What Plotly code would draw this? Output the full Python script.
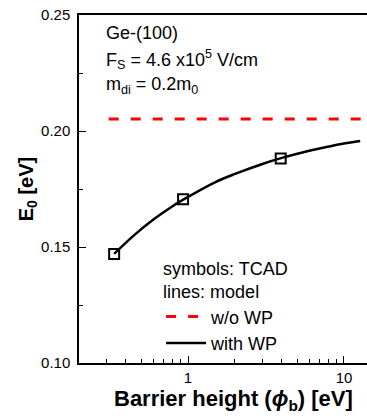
import plotly.graph_objects as go
import math

# TCAD symbols
tcad_phi = [0.336, 0.93, 3.93]
tcad_e0 = [0.147, 0.1706, 0.1882]

# model with WP
model_phi = [0.336, 0.45, 0.6, 0.8, 1.0, 1.5, 2.0, 3.0, 4.0, 6.0, 8.0, 10.0, 12.7]
model_e0 = [0.147, 0.155, 0.1618, 0.1677, 0.1716, 0.178, 0.1815, 0.1858, 0.1884, 0.1915, 0.1933, 0.1946, 0.1957]

# model without WP
nowp_phi = [0.31, 14.5]
nowp_e0 = [0.2052, 0.2052]

FONT = "Arial, Liberation Sans, sans-serif"
TXT = 18

fig = go.Figure()
fig.add_trace(go.Scatter(x=nowp_phi, y=nowp_e0, mode="lines", name="w/o WP",
                         line=dict(color="#ff0000", width=3, dash="10px,12px")))
fig.add_trace(go.Scatter(x=model_phi, y=model_e0, mode="lines", name="with WP",
                         line=dict(color="black", width=2.5, shape="spline")))
fig.add_trace(go.Scatter(x=tcad_phi, y=tcad_e0, mode="markers", showlegend=False,
                         marker=dict(symbol="square-open", size=10, color="black",
                                     line=dict(width=2, color="black"))))

fig.update_layout(
    width=367, height=419,
    margin=dict(l=79, r=0, t=15, b=56),
    paper_bgcolor="white", plot_bgcolor="white",
    font=dict(family=FONT, size=15, color="black"),
    showlegend=True,
    legend=dict(
        x=0.285, y=0.004, xanchor="left", yanchor="bottom",
        bgcolor="rgba(0,0,0,0)",
        title=dict(text="symbols: TCAD<br>lines: model", font=dict(size=TXT)),
        font=dict(size=TXT),
        itemwidth=40,
        tracegroupgap=0,
    ),
    xaxis=dict(
        type="log", range=[math.log10(0.2), math.log10(14.05)],
        showline=True, linecolor="black", linewidth=1.5, mirror=True,
        ticks="inside", ticklen=7, tickwidth=1.2, tickcolor="black",
        tickvals=[1, 10], ticktext=["1", "10"],
        showgrid=False, zeroline=False,
        minor=dict(ticks="inside", ticklen=4, tickwidth=1, tickcolor="black",
                   tickvals=[0.2, 0.3, 0.4, 0.5, 0.6, 0.7, 0.8, 0.9,
                             2, 3, 4, 5, 6, 7, 8, 9], showgrid=False),
        tickfont=dict(size=15),
    ),
    yaxis=dict(
        range=[0.10, 0.25],
        showline=True, linecolor="black", linewidth=1.5, mirror=False,
        ticks="inside", ticklen=7, tickwidth=1.2, tickcolor="black",
        tickvals=[0.10, 0.15, 0.20, 0.25], tickformat=".2f",
        showgrid=False, zeroline=False,
        minor=dict(ticks="inside", ticklen=4, tickwidth=1, tickcolor="black",
                   tickvals=[0.125, 0.175, 0.225], showgrid=False),
        tickfont=dict(size=15),
        ticklabelstandoff=4,
        title=dict(text="<b>E<sub>0</sub> [eV]</b>", font=dict(size=20), standoff=2),
    ),
    annotations=[
        dict(text="<b>Barrier height (<i>ϕ</i><sub>b</sub>) [eV]</b>", xref="paper", yref="paper",
             x=0.538, y=-0.106, xanchor="center", yanchor="middle", showarrow=False,
             font=dict(size=22)),
        dict(text="Ge-(100)", xref="paper", yref="paper", x=(104-79)/288, y=(363-33)/348,
             xanchor="left", yanchor="middle", showarrow=False, font=dict(size=TXT)),
        dict(text="F<sub>S</sub> = 4.6 x10<sup>5</sup> V/cm", xref="paper", yref="paper",
             x=(104-79)/288, y=(363-60)/348, xanchor="left", yanchor="middle",
             showarrow=False, font=dict(size=TXT)),
        dict(text="m<sub>di</sub> = 0.2m<sub>0</sub>", xref="paper", yref="paper",
             x=(104-79)/288, y=(363-86)/348, xanchor="left", yanchor="middle",
             showarrow=False, font=dict(size=TXT)),
    ],
)

fig.write_html("out.html")
